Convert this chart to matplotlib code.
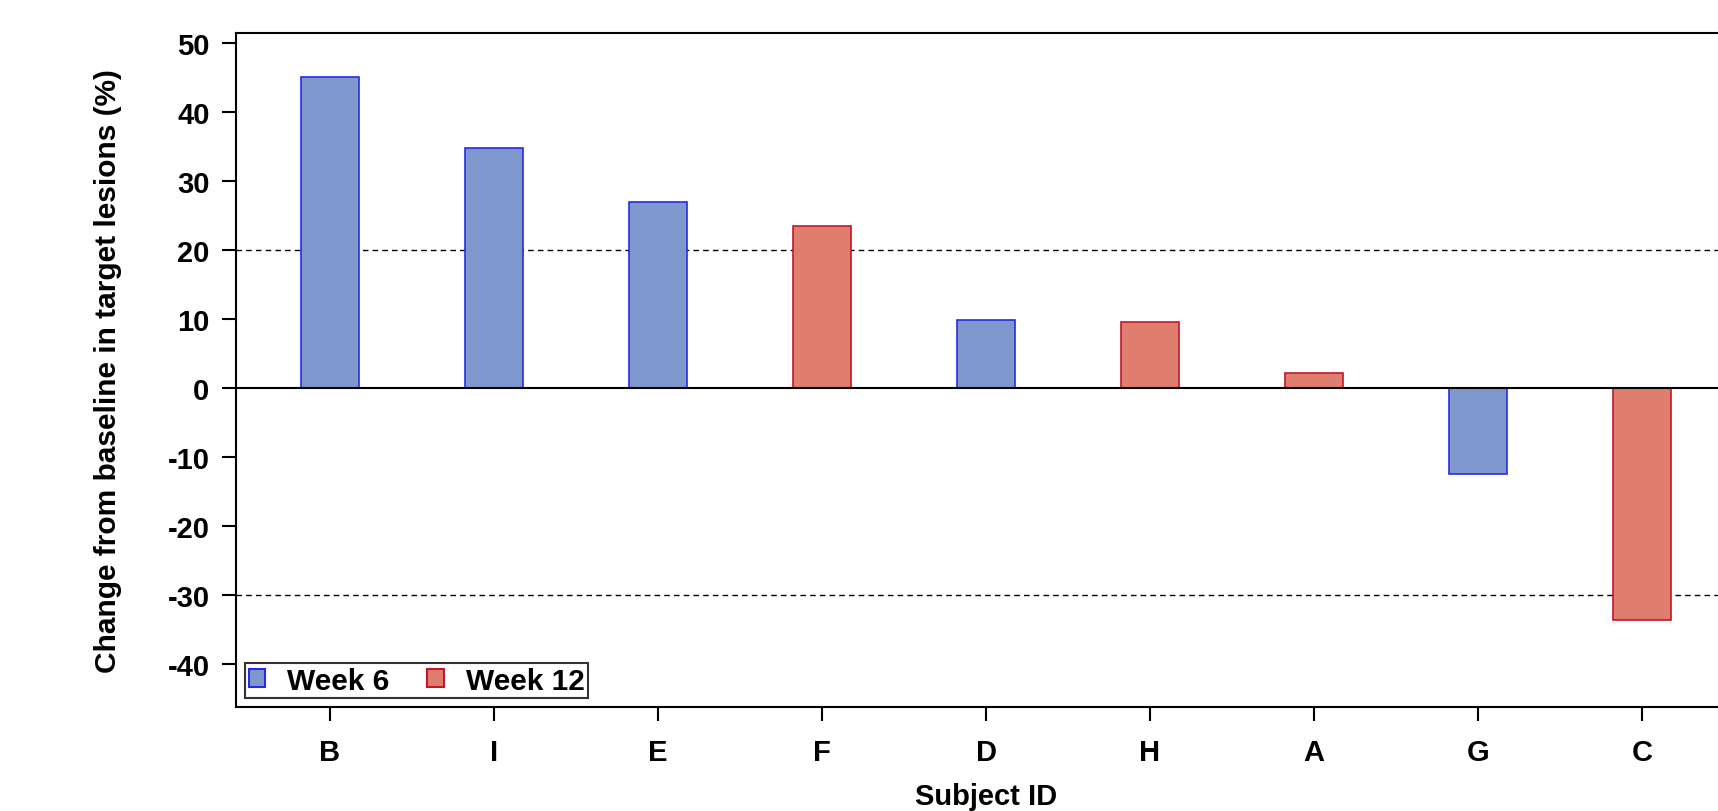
import matplotlib.pyplot as plt
import numpy as np

plt.rcParams['font.family'] = ['Liberation Sans', 'DejaVu Sans']
plt.rcParams['font.weight'] = 'bold'

subjects = ['B', 'I', 'E', 'F', 'D', 'H', 'A', 'G', 'C']
change = [45.0, 34.8, 27.0, 23.5, 9.8, 9.6, 2.2, -12.5, -33.6]
visit = ['Week 6', 'Week 6', 'Week 6', 'Week 12', 'Week 6', 'Week 12', 'Week 12', 'Week 6', 'Week 12']
yticks = [50, 40, 30, 20, 10, 0, -10, -20, -30, -40]

fill = {'Week 6': '#7e98ce', 'Week 12': '#df7e6e'}
edge = {'Week 6': '#2a2ae0', 'Week 12': '#c0182e'}

fig = plt.figure(figsize=(17.18, 8.12), dpi=100)
# axes runs a bit past the right edge of the figure, like the original
ax = fig.add_axes([236 / 1718, 1 - 708 / 812, 1500 / 1718, 674 / 812])

x = np.arange(len(subjects))
for i in range(len(subjects)):
    ax.bar(x[i], change[i], width=0.35, color=fill[visit[i]],
           edgecolor=edge[visit[i]], linewidth=1.2, zorder=2)

ax.axhline(0, color='black', linewidth=1.5, zorder=3)
ax.axhline(20, color='black', linestyle=(0, (4, 3)), linewidth=1.0, zorder=1)
ax.axhline(-30, color='black', linestyle=(0, (4, 3)), linewidth=1.0, zorder=1)

ax.set_xlim(-0.573, 8.573)
ax.set_ylim(-46.2, 51.4)
ax.set_xticks(x)
ax.set_xticklabels(subjects)
ax.set_yticks(yticks)
ax.set_yticklabels([str(t) for t in yticks])
ax.tick_params(axis='y', labelsize=21, length=10, width=1.5, pad=9)
ax.tick_params(axis='x', labelsize=21, length=10, width=1.5, pad=12)
for s in ax.spines.values():
    s.set_linewidth(1.5)
ax.spines['right'].set_visible(False)

ax.set_ylabel('Change from baseline in target lesions (%)', fontsize=21.5,
              fontweight='bold')
ax.yaxis.set_label_coords(-0.076, 0.5)
ax.set_xlabel('Subject ID', fontsize=21, fontweight='bold')
ax.xaxis.set_label_coords(0.5, -0.112)

handles = [plt.Rectangle((0, 0), 1, 1, facecolor=fill[k], edgecolor=edge[k], linewidth=1.5)
           for k in ['Week 6', 'Week 12']]
leg = ax.legend(handles, ['Week 6', 'Week 12'], loc='lower left', ncol=2,
                prop={'size': 21.5, 'weight': 'bold'}, frameon=True, fancybox=False,
                handlelength=0.55, handleheight=0.55, handletextpad=0.75,
                columnspacing=1.25, borderpad=0.12, borderaxespad=0,
                bbox_to_anchor=(0.006, 0.013))
leg.get_frame().set_edgecolor('black')
leg.get_frame().set_linewidth(1.5)

fig.savefig('out.png', dpi=100)
